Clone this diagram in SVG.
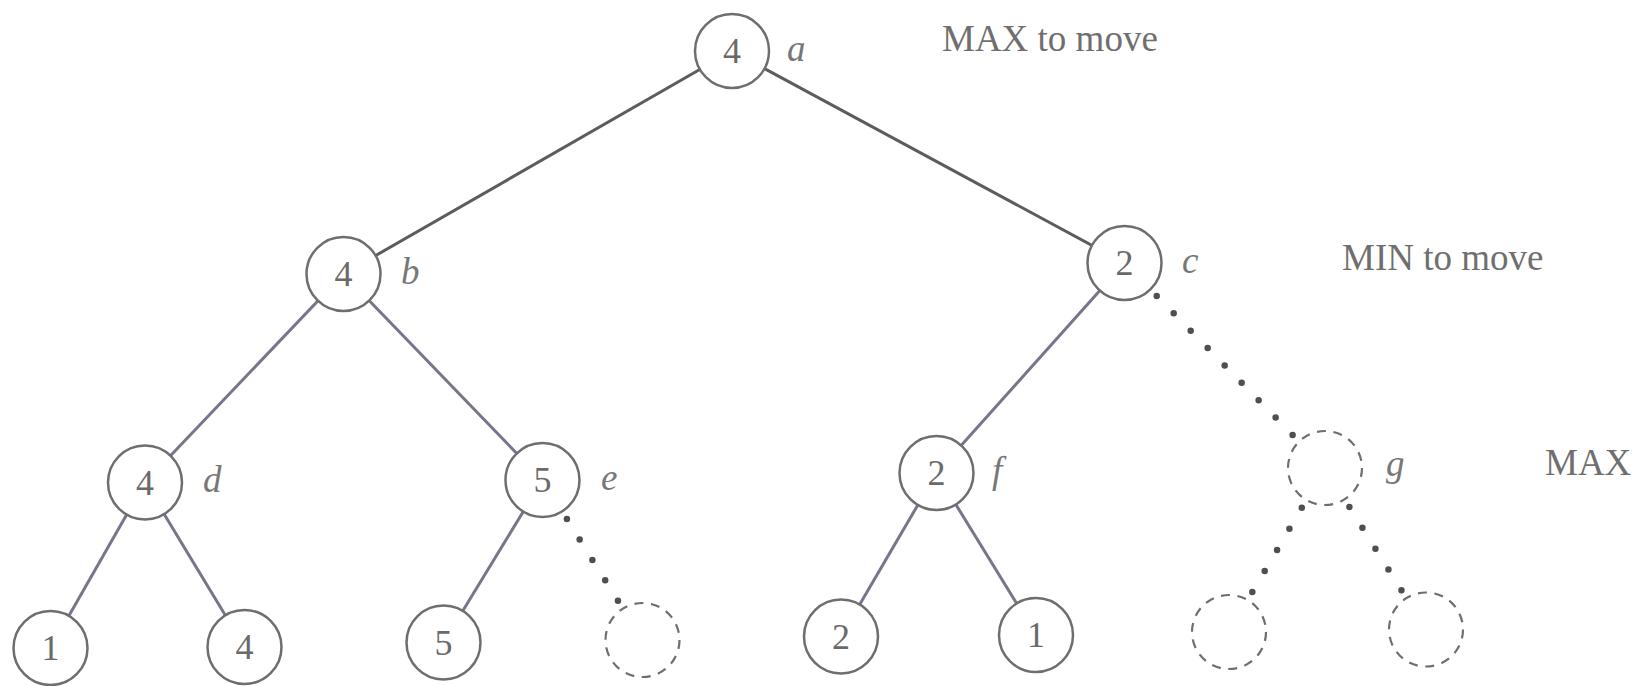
<svg xmlns="http://www.w3.org/2000/svg" width="1643" height="686" viewBox="0 0 1643 686">
<style>
.edge{stroke:#76768a;stroke-width:3;fill:none}
.top{stroke:#5c5c58}
.dots{stroke:#4f4f52;stroke-width:6.5;stroke-linecap:round;fill:none}
.node{fill:#fff;stroke:#6e6e6e;stroke-width:2.5}
.ghost{fill:#fff;stroke:#6e6e6e;stroke-width:2.2;stroke-dasharray:9 7.6}
.num{font-family:"Liberation Serif",serif;font-size:36px;fill:#6a6a6a;text-anchor:middle}
.lbl{font-family:"Liberation Serif",serif;font-size:37px;font-style:italic;fill:#777}
.side{font-family:"Liberation Serif",serif;font-size:37px;fill:#6f6f6f}
</style>
<rect width="1643" height="686" fill="#fff"/>
<g id="connectors">
<line class="edge top" x1="732" y1="51" x2="343.5" y2="274"/>
<line class="edge top" x1="732" y1="51" x2="1124.5" y2="263"/>
<line class="edge" x1="343.5" y1="274" x2="145" y2="482.5"/>
<line class="edge" x1="343.5" y1="274" x2="542.5" y2="480"/>
<line class="edge" x1="1124.5" y1="263" x2="936.5" y2="473"/>
<line class="edge" x1="145" y1="482.5" x2="50.5" y2="648"/>
<line class="edge" x1="145" y1="482.5" x2="244.5" y2="647"/>
<line class="edge" x1="542.5" y1="480" x2="443.5" y2="642.5"/>
<line class="edge" x1="936.5" y1="473" x2="841" y2="636.5"/>
<line class="edge" x1="936.5" y1="473" x2="1036" y2="635"/>
<line class="dots" x1="1156.7" y1="295.9" x2="1292.8" y2="435.1" stroke-dasharray="0 24.3"/>
<line class="dots" x1="566.9" y1="519.0" x2="618.1" y2="601.0" stroke-dasharray="0 24.1"/>
<line class="dots" x1="1301.8" y1="507.7" x2="1252.2" y2="592.3" stroke-dasharray="0 24.45"/>
<line class="dots" x1="1349.4" y1="507.0" x2="1401.6" y2="590.5" stroke-dasharray="0 24.55"/>
</g>
<g id="a"><circle class="node" cx="732" cy="51" r="37"/><text class="num" x="732" y="63">4</text><text class="lbl" x="787" y="61">a</text></g>
<g id="b"><circle class="node" cx="343.5" cy="274" r="37"/><text class="num" x="343.5" y="286">4</text><text class="lbl" x="401" y="284">b</text></g>
<g id="c"><circle class="node" cx="1124.5" cy="263" r="37"/><text class="num" x="1124.5" y="275">2</text><text class="lbl" x="1182" y="273">c</text></g>
<g id="d"><circle class="node" cx="145" cy="482.5" r="37"/><text class="num" x="145" y="494.5">4</text><text class="lbl" x="203" y="492">d</text></g>
<g id="e"><circle class="node" cx="542.5" cy="480" r="37"/><text class="num" x="542.5" y="492">5</text><text class="lbl" x="601" y="490">e</text></g>
<g id="f"><circle class="node" cx="936.5" cy="473" r="37"/><text class="num" x="936.5" y="485">2</text><text class="lbl" x="992" y="483">f</text></g>
<g id="g"><circle class="ghost" cx="1325" cy="468" r="37"/><text class="lbl" x="1386" y="476">g</text></g>
<g id="leaf1"><circle class="node" cx="50.5" cy="648" r="37"/><text class="num" x="50.5" y="660">1</text></g>
<g id="leaf4"><circle class="node" cx="244.5" cy="647" r="37"/><text class="num" x="244.5" y="659">4</text></g>
<g id="leaf5"><circle class="node" cx="443.5" cy="642.5" r="37"/><text class="num" x="443.5" y="654.5">5</text></g>
<g id="leafE2"><circle class="ghost" cx="642.5" cy="640" r="37"/></g>
<g id="leaf2"><circle class="node" cx="841" cy="636.5" r="37"/><text class="num" x="841" y="648.5">2</text></g>
<g id="leaf1b"><circle class="node" cx="1036" cy="635" r="37"/><text class="num" x="1036" y="647">1</text></g>
<g id="leafG1"><circle class="ghost" cx="1229" cy="632" r="37"/></g>
<g id="leafG2"><circle class="ghost" cx="1426" cy="629.5" r="37"/></g>
<g id="levels">
<text class="side" x="942" y="51">MAX to move</text>
<text class="side" x="1342" y="270">MIN to move</text>
<text class="side" x="1545" y="475">MAX</text>
</g>
</svg>
